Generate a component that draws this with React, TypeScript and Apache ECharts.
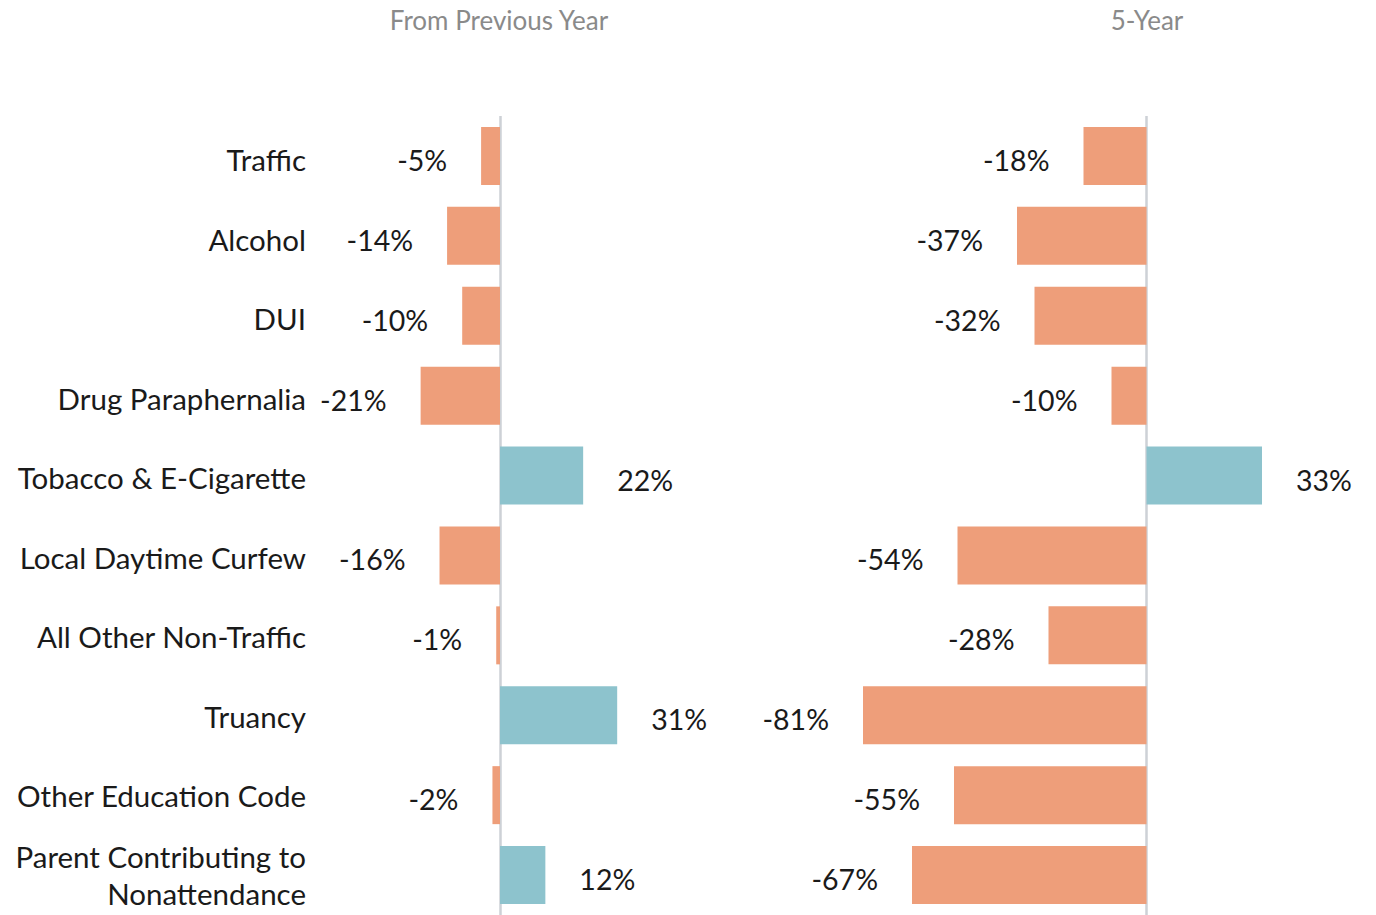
import React, { useEffect, useRef } from "react";
import * as echarts from "echarts";

const categories = [
  "Traffic",
  "Alcohol",
  "DUI",
  "Drug Paraphernalia",
  "Tobacco & E-Cigarette",
  "Local Daytime Curfew",
  "All Other Non-Traffic",
  "Truancy",
  "Other Education Code",
  "Parent Contributing to\nNonattendance",
];
const prevYear = [-5, -14, -10, -21, 22, -16, -1, 31, -2, 12];
const fiveYear = [-18, -37, -32, -10, 33, -54, -28, -81, -55, -67];
const panelTitles = ["From Previous Year", "5-Year"];

const NEG = "#EE9E7A";
const POS = "#8DC3CD";
const FONT = "Lato, 'Open Sans', sans-serif";
const FS = 29.5;
const VFS = 28.5;

function toData(vals: number[]) {
  return vals.map((v) => ({
    value: v,
    itemStyle: { color: v < 0 ? NEG : POS },
    label: { position: v < 0 ? "left" : "right" },
  }));
}

export default function App() {
  const ref = useRef<HTMLDivElement>(null);
  useEffect(() => {
    document.body.style.margin = "0";
    const chart = echarts.init(ref.current!, null, { renderer: "svg" });
    const gridTop = 116;
    const gridBottom = -6;
    const hiddenCat = (gridIndex: number) => ({
      type: "category",
      gridIndex,
      data: categories,
      inverse: true,
      axisLine: { show: false },
      axisTick: { show: false },
      splitLine: { show: false },
      axisLabel: { show: false },
    });
    const seriesCommon = (idx: number, vals: number[]) => ({
      type: "bar",
      xAxisIndex: idx,
      yAxisIndex: idx,
      data: toData(vals),
      barWidth: 58,
      label: {
        show: true,
        distance: 34,
        offset: [0, 4],
        formatter: "{c}%",
        fontSize: VFS,
        color: "#1a1a1a",
        fontFamily: FONT,
      },
      markLine: {
        silent: true,
        symbol: "none",
        label: { show: false },
        lineStyle: { color: "#cdd1d6", width: 2.5, type: "solid" },
        data: [{ xAxis: 0 }],
        z: 1,
      },
      z: 3,
    });
    chart.setOption({
      animation: false,
      textStyle: { fontFamily: FONT },
      grid: [
        { left: 311, width: 378, top: gridTop, bottom: gridBottom },
        { left: 796.5, width: 525, top: gridTop, bottom: gridBottom },
        { left: 311, width: 378, top: gridTop + 4, bottom: gridBottom - 4 },
      ],
      xAxis: [
        { type: "value", gridIndex: 0, min: -50, max: 50, show: false },
        { type: "value", gridIndex: 1, min: -100, max: 50, show: false },
        { type: "value", gridIndex: 2, min: -50, max: 50, show: false },
      ],
      yAxis: [
        hiddenCat(0),
        hiddenCat(1),
        {
          type: "category",
          gridIndex: 2,
          data: categories,
          inverse: true,
          axisLine: { show: false },
          axisTick: { show: false },
          splitLine: { show: false },
          axisLabel: {
            margin: 5,
            fontSize: FS,
            color: "#1a1a1a",
            fontFamily: FONT,
            lineHeight: 37,
            align: "right",
          },
        },
      ],
      graphic: [
        {
          type: "text",
          x: 499,
          y: 20,
          style: {
            text: panelTitles[0],
            textAlign: "center",
            textVerticalAlign: "middle",
            fontSize: 26,
            fill: "#8a8a8a",
            fontFamily: FONT,
          },
        },
        {
          type: "text",
          x: 1147,
          y: 20,
          style: {
            text: panelTitles[1],
            textAlign: "center",
            textVerticalAlign: "middle",
            fontSize: 26,
            fill: "#8a8a8a",
            fontFamily: FONT,
          },
        },
      ],
      series: [seriesCommon(0, prevYear), seriesCommon(1, fiveYear)],
    });
    return () => chart.dispose();
  }, []);
  return (
    <div
      ref={ref}
      style={{ position: "absolute", left: 0, top: 0, width: 1376, height: 915 }}
    />
  );
}
